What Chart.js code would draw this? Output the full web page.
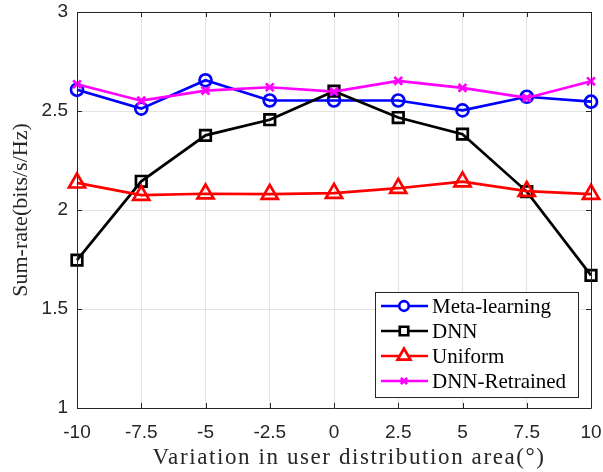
<!DOCTYPE html>
<html>
<head>
<meta charset="utf-8">
<script src="https://cdn.jsdelivr.net/npm/chart.js@4/dist/chart.umd.min.js"></script>
<style>
html,body{margin:0;padding:0;background:#fff;}
#wrap{position:relative;width:603px;height:472px;}
</style>
</head>
<body>
<div id="wrap"><canvas id="c" width="603" height="472"></canvas></div>
<script>
const xValues = [-10, -7.5, -5, -2.5, 0, 2.5, 5, 7.5, 10];
const metaLearning = [2.607, 2.512, 2.655, 2.553, 2.553, 2.553, 2.503, 2.572, 2.547];
const dnn = [1.747, 2.145, 2.377, 2.456, 2.600, 2.467, 2.383, 2.093, 1.670];
const uniform = [2.137, 2.075, 2.082, 2.080, 2.085, 2.110, 2.143, 2.095, 2.080];
const dnnRetrained = [2.635, 2.552, 2.603, 2.620, 2.598, 2.652, 2.617, 2.566, 2.650];
const seriesNames = ['Meta-learning', 'DNN', 'Uniform', 'DNN-Retrained'];
const xTitle = 'Variation in user distribution area(\u00B0)';
const yTitle = 'Sum-rate(bits/s/Hz)';

const TICK_FONT = {family: '"Liberation Sans", Arial, sans-serif', size: 19};
const SERIF = '"Liberation Serif", "DejaVu Serif", serif';
const AXIS_COLOR = '#262626';

function pts(arr){ return xValues.map((x,i)=>({x:x, y:arr[i]})); }

function ds(label, data, color, style, radius, order){
  return {
    label: label, data: pts(data), borderColor: color, backgroundColor: color,
    borderWidth: 2.7, pointStyle: style, pointRadius: radius, pointHoverRadius: radius,
    pointBorderColor: color, pointBackgroundColor: 'rgba(0,0,0,0)', pointBorderWidth: 2.7,
    tension: 0, clip: false, order: order
  };
}

const framePlugin = {
  id: 'frame',
  afterDatasetsDraw(chart){
    const ctx = chart.ctx, a = chart.chartArea;
    const xs = chart.scales.x, ys = chart.scales.y;
    ctx.save();
    ctx.strokeStyle = AXIS_COLOR; ctx.lineWidth = 1;
    ctx.beginPath();
    ctx.rect(Math.round(a.left)+0.5, Math.round(a.top)+0.5, Math.round(a.right-a.left), Math.round(a.bottom-a.top));
    ctx.stroke();
    const tl = 5;
    ctx.beginPath();
    xs.ticks.forEach(t=>{
      const px = Math.round(xs.getPixelForValue(t.value))+0.5;
      ctx.moveTo(px, a.bottom); ctx.lineTo(px, a.bottom-tl);
      ctx.moveTo(px, a.top); ctx.lineTo(px, a.top+tl);
    });
    ys.ticks.forEach(t=>{
      const py = Math.round(ys.getPixelForValue(t.value))+0.5;
      ctx.moveTo(a.left, py); ctx.lineTo(a.left+tl, py);
      ctx.moveTo(a.right, py); ctx.lineTo(a.right-tl, py);
    });
    ctx.stroke();
    ctx.restore();
  },
  afterDraw(chart){
    const ctx = chart.ctx, a = chart.chartArea;
    // x-axis title
    ctx.save();
    ctx.fillStyle = AXIS_COLOR;
    ctx.font = '23px ' + SERIF;
    if ('letterSpacing' in ctx) ctx.letterSpacing = '1.6px';
    ctx.textAlign = 'center'; ctx.textBaseline = 'middle';
    ctx.fillText(xTitle, (a.left + a.right)/2 + 15, chart.height - 14);
    ctx.restore();
    // legend
    const w = 203, h = 105;
    const left = Math.round(a.right - 13 - w), top = Math.round(a.bottom - 11 - h);
    ctx.save();
    ctx.fillStyle = '#fff';
    ctx.fillRect(left, top, w, h);
    ctx.strokeStyle = AXIS_COLOR; ctx.lineWidth = 1;
    ctx.strokeRect(left+0.5, top+0.5, w, h);
    chart.data.datasets.forEach((d, i)=>{
      const y = top + 14 + i*25;
      ctx.strokeStyle = d.borderColor; ctx.lineWidth = d.borderWidth;
      ctx.beginPath(); ctx.moveTo(left+6, y); ctx.lineTo(left+53, y); ctx.stroke();
      ctx.lineWidth = d.pointBorderWidth;
      ctx.fillStyle = '#fff';
      Chart.helpers.drawPoint(ctx, {pointStyle: d.pointStyle, radius: d.pointRadius*0.8, borderWidth: d.pointBorderWidth}, left+29, y);
      ctx.fillStyle = '#000';
      ctx.font = '21px ' + SERIF;
      ctx.textBaseline = 'middle'; ctx.textAlign = 'left';
      ctx.fillText(d.label, left+57, y+1);
    });
    ctx.restore();
  }
};

new Chart(document.getElementById('c'), {
  type: 'line',
  data: {
    datasets: [
      ds(seriesNames[0], metaLearning, '#0000ff', 'circle', 6, 3),
      ds(seriesNames[1], dnn, '#000000', 'rect', 7.5, 2),
      ds(seriesNames[2], uniform, '#ff0000', 'triangle', 9.3, 1),
      ds(seriesNames[3], dnnRetrained, '#ff00ff', 'crossRot', 5.5, 0)
    ]
  },
  options: {
    responsive: false, animation: false, devicePixelRatio: 1,
    layout: {padding: {top: 10, right: 10, left: 0, bottom: 0}},
    plugins: {legend: {display: false}, tooltip: {enabled: false}},
    scales: {
      x: {
        type: 'linear', min: -10, max: 10,
        ticks: {stepSize: 2.5, color: AXIS_COLOR, font: TICK_FONT, padding: 13, maxRotation: 0,
          callback: v => String(v)},
        grid: {color: '#e3e3e3', lineWidth: 1, drawTicks: false},
        border: {display: false},
        title: {display: false, text: xTitle},
        afterFit(s){ s.height = 64; s.paddingLeft = 0; s.paddingRight = 0; }
      },
      y: {
        type: 'linear', min: 1, max: 3,
        ticks: {stepSize: 0.5, color: AXIS_COLOR, font: TICK_FONT, padding: 9,
          callback: v => String(v)},
        grid: {color: '#e3e3e3', lineWidth: 1, drawTicks: false},
        border: {display: false},
        title: {display: true, text: yTitle, color: AXIS_COLOR, font: {family: SERIF, size: 22}, padding: {top: 8, bottom: 0}},
        afterFit(s){ s.width = 77; s.paddingTop = 0; s.paddingBottom = 0; }
      }
    }
  },
  plugins: [framePlugin]
});
</script>
</body>
</html>
